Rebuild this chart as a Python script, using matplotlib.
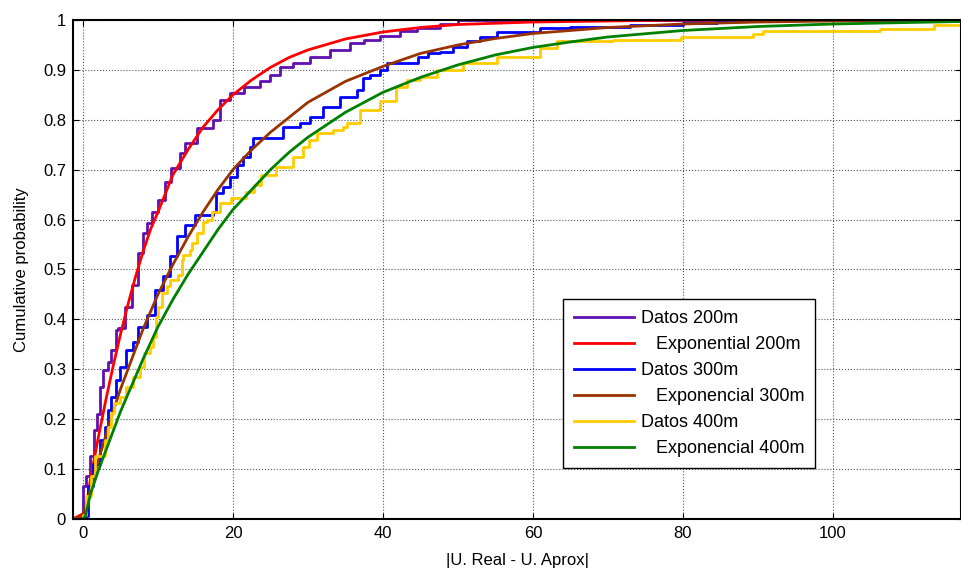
import numpy as np
import matplotlib
matplotlib.use("Agg")
import matplotlib.pyplot as plt

plt.rcParams['font.family'] = ['Liberation Sans', 'DejaVu Sans']

# empirical CDF, 200 m (step points: x where the step happens, new y)
datos200_x = [-1.3, 0, 0.45, 0.9, 1.4, 1.8, 2.2, 2.7, 3.3, 3.8, 4.4, 4.7, 5.6, 6.5, 7.4, 8.0, 8.5,
              9.2, 10.0, 10.9, 11.8, 12.9, 13.6, 15.2, 17.4, 18.3, 19.6, 21.5, 23.6, 25.0, 26.3,
              28.0, 30.3, 32.9, 35.6, 37.5, 39.6, 42.3, 44.5, 47.6, 50.0, 117]
datos200_y = [0, 0.065, 0.085, 0.125, 0.178, 0.21, 0.265, 0.299, 0.315, 0.339, 0.379, 0.382, 0.425,
              0.469, 0.532, 0.572, 0.593, 0.616, 0.639, 0.676, 0.703, 0.733, 0.753, 0.783, 0.80,
              0.84, 0.853, 0.865, 0.877, 0.89, 0.906, 0.913, 0.926, 0.94, 0.953, 0.96, 0.967,
              0.977, 0.985, 0.993, 1.0, 1.0]

expo200_x = [-1.3, 0, 0.4, 1, 2, 3, 4, 5, 6, 7, 8, 9, 10, 12, 14, 16, 18, 20, 22.5, 25, 27.5, 30,
             35, 40, 45, 50, 60, 70, 80, 117]
expo200_y = [0, 0.01, 0.02, 0.08, 0.16, 0.235, 0.305, 0.37, 0.43, 0.485, 0.535, 0.58, 0.615, 0.69,
             0.74, 0.785, 0.82, 0.85, 0.88, 0.905, 0.925, 0.94, 0.962, 0.976, 0.985, 0.991, 0.996,
             0.998, 1.0, 1.0]

datos300_x = [-1.3, 0.2, 0.7, 1.3, 2.2, 2.9, 3.3, 3.8, 4.4, 4.9, 5.8, 6.7, 7.4, 8.5, 9.6, 10.7, 11.6,
              12.5, 13.6, 14.9, 17.4, 17.8, 18.7, 19.6, 20.5, 21.4, 22.3, 22.7, 26.7, 28.9, 30.3,
              32.0, 34.3, 36.5, 37.4, 38.3, 39.6, 40.5, 44.7, 46.0, 47.6, 49.4, 51.2, 53.0, 55.2,
              61.0, 65.0, 73.0, 80.0, 84.5, 88.0, 117]
datos300_y = [0, 0.005, 0.065, 0.11, 0.158, 0.185, 0.218, 0.245, 0.279, 0.305, 0.339, 0.355, 0.385,
              0.409, 0.459, 0.486, 0.526, 0.566, 0.589, 0.609, 0.616, 0.653, 0.666, 0.686, 0.709,
              0.726, 0.746, 0.763, 0.786, 0.793, 0.806, 0.826, 0.846, 0.86, 0.883, 0.89, 0.90,
              0.913, 0.926, 0.933, 0.936, 0.946, 0.958, 0.965, 0.975, 0.983, 0.987, 0.99, 0.995,
              0.998, 1.0, 1.0]

expo300_x = [-1.3, 0, 1, 2, 3, 4, 5, 6, 7, 8, 10, 12, 14, 16, 18, 20, 22.5, 25, 27.5, 30, 35, 40,
             45, 50, 55, 60, 70, 80, 90, 100, 117]
expo300_y = [0, 0.005, 0.06, 0.115, 0.165, 0.215, 0.26, 0.30, 0.34, 0.38, 0.45, 0.51, 0.565, 0.615,
             0.66, 0.70, 0.74, 0.775, 0.805, 0.835, 0.877, 0.907, 0.933, 0.95, 0.963, 0.973, 0.985,
             0.992, 0.996, 0.998, 1.0]

datos400_x = [-1.3, 0, 0.4, 1.1, 1.6, 2.9, 3.3, 3.8, 4.2, 4.9, 5.8, 6.7, 7.6, 8.2, 8.9, 9.4, 9.8,
              10.0, 10.5, 11.2, 11.6, 12.7, 13.2, 13.4, 14.3, 14.5, 15.2, 16.0, 16.5, 17.2, 18.3,
              19.8, 21.8, 22.8, 23.8, 25.8, 28.0, 29.4, 30.2, 31.2, 33.4, 34.7, 35.2, 36.9, 39.6,
              41.8, 43.2, 44.9, 47.2, 50.7, 55.2, 61.0, 63.2, 70.7, 79.7, 89.4, 90.7, 106.3, 113.5,
              117]
datos400_y = [0, 0.008, 0.045, 0.085, 0.125, 0.158, 0.185, 0.212, 0.232, 0.245, 0.265, 0.285, 0.305,
              0.332, 0.345, 0.365, 0.405, 0.425, 0.452, 0.466, 0.479, 0.489, 0.519, 0.529, 0.539,
              0.552, 0.572, 0.596, 0.599, 0.616, 0.633, 0.643, 0.656, 0.67, 0.689, 0.706, 0.726,
              0.746, 0.76, 0.773, 0.78, 0.786, 0.793, 0.82, 0.838, 0.866, 0.88, 0.885, 0.9, 0.913,
              0.926, 0.943, 0.958, 0.96, 0.966, 0.971, 0.977, 0.982, 0.99, 0.99]

expo400_x = [0, 0.3, 1, 2, 3, 4, 5, 6, 7, 8, 10, 12, 14, 16, 18, 20, 22.5, 25, 27.5, 30, 35, 40, 45,
             50, 55, 60, 65, 70, 80, 90, 100, 110, 117]
expo400_y = [0, 0.005, 0.05, 0.095, 0.135, 0.175, 0.215, 0.25, 0.285, 0.32, 0.385, 0.44, 0.49,
             0.535, 0.58, 0.62, 0.66, 0.70, 0.735, 0.765, 0.815, 0.855, 0.885, 0.91, 0.93, 0.945,
             0.956, 0.966, 0.979, 0.987, 0.992, 0.995, 0.997]

labels = ["Datos 200m", "   Exponential 200m", "Datos 300m", "   Exponencial 300m",
          "Datos 400m", "   Exponencial 400m"]
colors = ["#6010b0", "#ff0000", "#0000ff", "#993300", "#ffcc00", "#008000"]

fig = plt.figure(figsize=(9.61, 5.72), dpi=100)
ax = fig.add_axes([0.076, 0.093, 0.924, 0.872])

lw = 2.0
ax.plot(datos200_x, datos200_y, drawstyle="steps-post", color=colors[0], lw=lw, label=labels[0])
ax.plot(expo200_x, expo200_y, color=colors[1], lw=lw, label=labels[1])
ax.plot(datos300_x, datos300_y, drawstyle="steps-post", color=colors[2], lw=lw, label=labels[2])
ax.plot(expo300_x, expo300_y, color=colors[3], lw=lw, label=labels[3])
ax.plot(datos400_x, datos400_y, drawstyle="steps-post", color=colors[4], lw=lw, label=labels[4])
ax.plot(expo400_x, expo400_y, color=colors[5], lw=lw, label=labels[5])

ax.set_xlim(-1.33, 117.1)
ax.set_ylim(0, 1)
ax.set_xticks([0, 20, 40, 60, 80, 100])
ax.set_yticks(np.arange(0, 1.01, 0.1))
ax.set_yticklabels(["0", "0.1", "0.2", "0.3", "0.4", "0.5", "0.6", "0.7", "0.8", "0.9", "1"])
ax.tick_params(direction="in", length=4, top=True, right=True, labelsize=12, pad=5)
ax.grid(True, linestyle=":", color="#555555", linewidth=0.8)
for s in ax.spines.values():
    s.set_linewidth(1.5)

ax.set_xlabel("|U. Real - U. Aprox|", fontsize=12, labelpad=9)
ax.set_ylabel("Cumulative probability", fontsize=12, labelpad=10)

leg = ax.legend(loc="lower left", bbox_to_anchor=(0.552, 0.102), borderaxespad=0, fontsize=13,
                handlelength=3.3, fancybox=False, framealpha=1, edgecolor="black",
                borderpad=0.6, labelspacing=0.5, handletextpad=0.4)
leg.get_frame().set_linewidth(1.0)

fig.savefig("out.png", dpi=100)
